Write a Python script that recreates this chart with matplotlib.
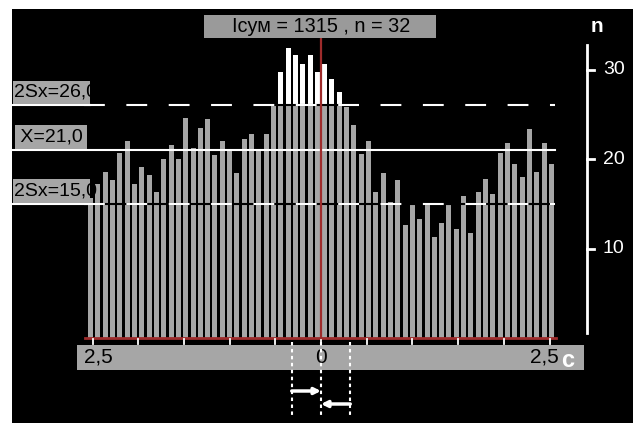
import numpy as np
import matplotlib
matplotlib.use("Agg")
import matplotlib.pyplot as plt
from matplotlib.patches import Rectangle

plt.rcParams["font.family"] = ["Liberation Sans", "DejaVu Sans"]
plt.rcParams["lines.scale_dashes"] = False

# ---- data: 64 bins of 80 ms around the event, counts per bin ----
counts = [15.6, 17.2, 18.6, 17.7, 20.7, 22.0, 17.2, 19.1, 18.2, 16.3,
          20.0, 21.6, 20.0, 24.6, 21.2, 23.5, 24.5, 20.5, 22.0, 21.0,
          18.4, 22.2, 22.8, 21.0, 22.8, 25.9, 29.7, 32.4, 31.6, 30.6,
          31.6, 29.7, 30.6, 29.0, 27.5, 25.8, 23.8, 20.6, 22.0, 16.3,
          18.4, 15.2, 17.7, 12.6, 14.9, 13.3, 15.1, 11.3, 12.9, 14.9,
          12.2, 15.9, 11.7, 16.3, 17.8, 16.1, 20.7, 21.8, 19.4, 18.0,
          23.4, 18.6, 21.8, 19.4]
bin_centers = np.round(np.linspace(-2.52, 2.52, 64), 2)
mean_level = 21.0
low_level = 15.0
high_level = 26.0
x_ticks = [-2.5, -2.0, -1.5, -1.0, -0.5, 0.0, 0.5, 1.0, 1.5, 2.0, 2.5]
y_ticks = [10, 20, 30]
window = [-0.32, 0.32]
title = "Iсум = 1315 , n = 32"

counts = np.array(counts)

# pixel <-> data mapping (axes covers the whole 633x423 figure)
X0, SX, Y0, SY = 321.0, 91.4, 338.0, 8.947
def dx(p): return (p - X0) / SX
def dy(p): return (Y0 - p) / SY

fig = plt.figure(figsize=(6.33, 4.23), dpi=100, facecolor="white")
ax = fig.add_axes([0, 0, 1, 1])
ax.set_xlim(dx(0), dx(633)); ax.set_ylim(dy(423), dy(0))
ax.axis("off")

GRAY = "#a6a6a6"; DRED = "#9e2b2b"

# black panel
ax.add_patch(Rectangle((dx(12), dy(423)), dx(633) - dx(12), dy(9) - dy(423),
                       fc="black", ec="none", zorder=0))

# bars: gray up to the upper limit, white above it
w = 0.0545
ax.bar(bin_centers, np.minimum(counts, high_level), width=w, color=GRAY, zorder=2)
over = counts > high_level
ax.bar(bin_centers[over], counts[over] - high_level, bottom=high_level,
       width=w, color="white", zorder=2)

# reference lines
xl, xr = dx(84), dx(555)
for lev in (high_level, low_level):
    ax.plot([xl, xr], [lev, lev], color="black", lw=1.5, zorder=3)
    ax.plot([xl, xr], [lev, lev], color="white", lw=1.5, zorder=3.1,
            dashes=(15, 15.5))
    ax.plot([dx(13), dx(90)], [lev, lev], color="white", lw=1.5, zorder=3.1)
ax.plot([dx(13), xr], [mean_level, mean_level], color="white", lw=1.5, zorder=3)

# level label boxes
for lev, txt, x1, x2, tx in [(high_level, "2Sx=26,0", 13, 90, 14),
                             (mean_level, " X=21,0", 15, 87, 15),
                             (low_level, "2Sx=15,0", 13, 90, 14)]:
    box = Rectangle((dx(x1), lev + 0.12), dx(x2) - dx(x1), 2.65,
                    fc=GRAY, ec="none", zorder=4)
    ax.add_patch(box)
    t = ax.text(dx(tx), lev + 1.45, txt, ha="left", va="center", fontsize=14,
                color="black", zorder=5)
    t.set_clip_path(box)

# centre red line and baseline
ax.plot([0, 0], [0, dy(38)], color=DRED, lw=1.6, zorder=3.5)
ax.plot([dx(85), dx(556)], [0, 0], color=DRED, lw=2, zorder=3)
for xt in x_ticks:
    ax.plot([xt, xt], [dy(339), dy(344)], color="white", lw=1.3, zorder=3)

# title box
ax.add_patch(Rectangle((dx(204), dy(38)), dx(436) - dx(204), dy(15) - dy(38),
                       fc="#9a9a9a", ec="none", zorder=4))
ax.text(0, dy(27), title, ha="center", va="center", fontsize=14.3,
        color="black", zorder=5)

# x axis bar
ax.add_patch(Rectangle((dx(77), dy(370)), dx(584) - dx(77), dy(345) - dy(370),
                       fc=GRAY, ec="none", zorder=4))
ax.text(dx(84), dy(357), "2,5", ha="left", va="center", fontsize=15, zorder=5)
ax.text(0, dy(357), "0", ha="center", va="center", fontsize=15, zorder=5)
ax.text(dx(559), dy(357), "2,5", ha="right", va="center", fontsize=15, zorder=5)
ax.text(dx(561), dy(360), "с", ha="left", va="center", fontsize=17,
        fontweight="bold", color="white", zorder=5)

# window markers below
for xv in [window[0], 0, window[1]]:
    ax.plot([xv, xv], [dy(342), dy(415)], color="white", lw=1.5,
            dashes=(2.5, 2.5), zorder=6)
ax.annotate("", xy=(0, dy(391)), xytext=(window[0], dy(391)),
            arrowprops=dict(arrowstyle="-|>", color="white", lw=2.5,
                            mutation_scale=9, shrinkA=0, shrinkB=0), zorder=6)
ax.annotate("", xy=(0, dy(404)), xytext=(window[1], dy(404)),
            arrowprops=dict(arrowstyle="-|>", color="white", lw=2.5,
                            mutation_scale=9, shrinkA=0, shrinkB=0), zorder=6)

# right count axis
ya = dx(587)
ax.plot([ya, ya], [dy(333), dy(45)], color="white", lw=2, zorder=3)
for yt in y_ticks:
    ax.plot([ya, dx(594)], [yt, yt], color="white", lw=2, zorder=3)
    ax.text(dx(603), yt, str(yt), ha="left", va="center", fontsize=14,
            color="white", zorder=5)
ax.text(dx(597), dy(27), "n", ha="center", va="center", fontsize=15,
        fontweight="bold", color="white", zorder=5)

fig.savefig("out.png", dpi=100, facecolor="white")
